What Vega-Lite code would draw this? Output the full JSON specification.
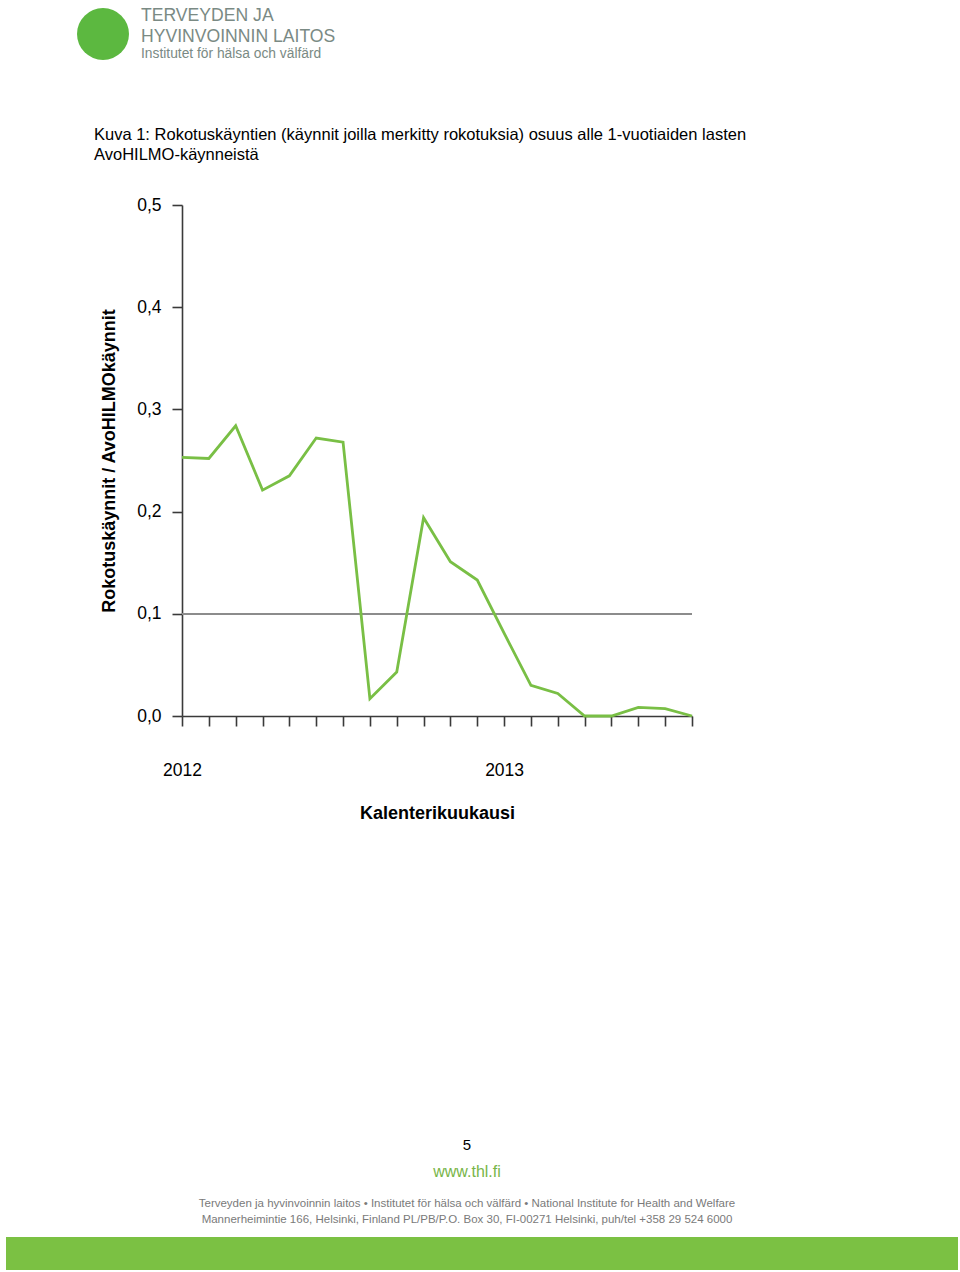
{
  "$schema": "https://vega.github.io/schema/vega-lite/v6.json",
  "background": "white",
  "padding": {"left": 6, "top": 0, "right": 0, "bottom": 0},
  "spacing": 0,
  "bounds": "flush",
  "config": {
    "view": {"stroke": null},
    "font": "Liberation Sans",
    "axis": {
      "domainColor": "#3a3a3a",
      "domainWidth": 1.6,
      "tickColor": "#3a3a3a",
      "tickWidth": 1.6,
      "labelFont": "Liberation Sans",
      "labelFontSize": 17.5,
      "labelColor": "#000000",
      "titleFont": "Liberation Sans",
      "titleFontSize": 18,
      "titleFontWeight": "bold",
      "titleColor": "#000000",
      "grid": false
    }
  },
  "vconcat": [
    {
      "width": 194,
      "height": 68,
      "data": {"values": [{"item": "logo"}]},
      "mark": {"type": "point", "filled": true, "size": 2700, "color": "#5cb840", "opacity": 1},
      "encoding": {},
      "title": {
        "text": ["TERVEYDEN JA", "HYVINVOINNIN LAITOS"],
        "subtitle": "Institutet för hälsa och välfärd",
        "orient": "top",
        "anchor": "start",
        "frame": "group",
        "dx": 135,
        "offset": -61,
        "font": "Liberation Sans",
        "fontSize": 17.6,
        "fontWeight": "normal",
        "color": "#7a8a84",
        "lineHeight": 21,
        "subtitleFont": "Liberation Sans",
        "subtitleFontSize": 13.8,
        "subtitleColor": "#7a8a84",
        "subtitlePadding": 2
      }
    },
    {
      "width": 954,
      "height": 648,
      "data": {"values": [
        {"month": "2012-01", "share": 0.253},
        {"month": "2012-02", "share": 0.252},
        {"month": "2012-03", "share": 0.284},
        {"month": "2012-04", "share": 0.221},
        {"month": "2012-05", "share": 0.235},
        {"month": "2012-06", "share": 0.272},
        {"month": "2012-07", "share": 0.268},
        {"month": "2012-08", "share": 0.017},
        {"month": "2012-09", "share": 0.043},
        {"month": "2012-10", "share": 0.194},
        {"month": "2012-11", "share": 0.151},
        {"month": "2012-12", "share": 0.133},
        {"month": "2013-01", "share": 0.081},
        {"month": "2013-02", "share": 0.030},
        {"month": "2013-03", "share": 0.022},
        {"month": "2013-04", "share": 0.0},
        {"month": "2013-05", "share": 0.0},
        {"month": "2013-06", "share": 0.0085},
        {"month": "2013-07", "share": 0.0072},
        {"month": "2013-08", "share": 0.0}
      ]},
      "title": {
        "text": ["Kuva 1: Rokotuskäyntien (käynnit joilla merkitty rokotuksia) osuus alle 1-vuotiaiden lasten", "AvoHILMO-käynneistä"],
        "orient": "top",
        "anchor": "start",
        "frame": "group",
        "dx": 88,
        "offset": -95,
        "font": "Liberation Sans",
        "fontSize": 16.5,
        "fontWeight": "normal",
        "color": "#000000",
        "lineHeight": 20
      },
      "encoding": {
        "x": {
          "field": "month",
          "type": "ordinal",
          "scale": {"type": "point", "padding": 0, "range": [176, 686]},
          "axis": {
            "title": "Kalenterikuukausi",
            "labelExpr": "slice(datum.value, 5) == '01' ? slice(datum.value, 0, 4) : ''",
            "labelAngle": 0,
            "tickSize": 10,
            "labelPadding": 35,
            "titlePadding": 26
          }
        },
        "y": {
          "field": "share",
          "type": "quantitative",
          "scale": {"domain": [0, 0.5], "range": [648, 137], "nice": false, "zero": true},
          "axis": {
            "title": "Rokotuskäynnit / AvoHILMOkäynnit",
            "values": [0, 0.1, 0.2, 0.3, 0.4, 0.5],
            "labelExpr": "replace(format(datum.value, '.1f'), '.', ',')",
            "offset": -176,
            "tickSize": 10,
            "labelPadding": 11,
            "titlePadding": 18
          }
        }
      },
      "layer": [
        {
          "mark": {"type": "rule", "color": "#8c8c8c", "strokeWidth": 1.5},
          "encoding": {
            "x": {"datum": "2012-01"},
            "x2": {"datum": "2013-08"},
            "y": {"datum": 0.1}
          }
        },
        {
          "mark": {"type": "line", "color": "#79bf45", "strokeWidth": 2.8},
          "encoding": {}
        }
      ]
    },
    {
      "width": 954,
      "height": 521,
      "data": {"values": [{"item": "page"}]},
      "mark": {"type": "rect", "opacity": 0},
      "encoding": {},
      "title": {
        "text": "5",
        "subtitle": "www.thl.fi",
        "orient": "top",
        "anchor": "middle",
        "frame": "group",
        "dx": -16,
        "offset": -464,
        "font": "Liberation Sans",
        "fontSize": 15,
        "fontWeight": "normal",
        "color": "#000000",
        "subtitleFont": "Liberation Sans",
        "subtitleFontSize": 16,
        "subtitleColor": "#78b548",
        "subtitlePadding": 11
      }
    },
    {
      "width": 952,
      "height": 33,
      "data": {"values": [{"item": "band"}]},
      "mark": {"type": "rect", "color": "#7bc143"},
      "encoding": {},
      "title": {
        "text": [
          "Terveyden ja hyvinvoinnin laitos • Institutet för hälsa och välfärd • National Institute for Health and Welfare",
          "Mannerheimintie 166, Helsinki, Finland PL/PB/P.O. Box 30, FI-00271 Helsinki, puh/tel +358 29 524 6000"
        ],
        "orient": "top",
        "anchor": "middle",
        "frame": "group",
        "dx": -15,
        "offset": 12,
        "font": "Liberation Sans",
        "fontSize": 11.5,
        "fontWeight": "normal",
        "color": "#7a7a7a",
        "lineHeight": 16
      }
    }
  ]
}
